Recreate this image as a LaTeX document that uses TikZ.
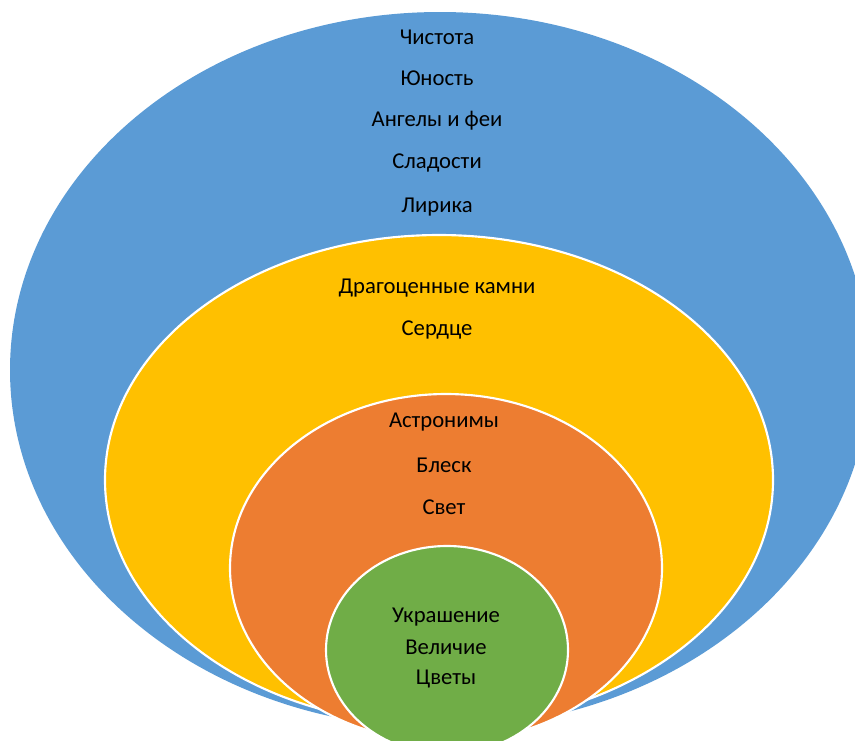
\documentclass[tikz,border=0pt]{standalone}
\usepackage{fontspec}
\setmainfont{Carlito}
\usepackage{xcolor}

\begin{document}
\begin{tikzpicture}[x=0.75pt,y=-0.75pt,
  ring/.style={draw=white,line width=1.6pt},
  word/.style={font=\fontsize{17}{20}\selectfont,text=black}]
\definecolor{sky}{HTML}{5B9BD5}
\definecolor{amber}{HTML}{FFC000}
\definecolor{carrot}{HTML}{ED7D31}
\definecolor{leaf}{HTML}{70AD47}
\useasboundingbox (0,0) rectangle (855,740);
\clip (0,0) rectangle (855,740);
\fill[sky] (440,370) ellipse [x radius=430,y radius=358];
\filldraw[ring,fill=amber] (439,480) ellipse [x radius=334,y radius=245];
\filldraw[ring,fill=carrot] (446,568) ellipse [x radius=216,y radius=174];
\filldraw[ring,fill=leaf] (447,650) ellipse [x radius=121,y radius=104];
  \foreach \txt/\ypos in {Чистота/37,Юность/78,Ангелы и феи/121,Сладости/163,Лирика/207,Драгоценные камни/288,Сердце/330}
  {  \node [word] (w\ypos) at (437,\ypos) {\txt};}
  \foreach \txt/\ypos in {Астронимы/422,Блеск/465,Свет/507}
  {  \node [word] (w\ypos) at (444,\ypos) {\txt};}
  \foreach \txt/\ypos in {Украшение/617,Величие/647,Цветы/679}
  {  \node [word] (w\ypos) at (446,\ypos) {\txt};}
\end{tikzpicture}
\end{document}
